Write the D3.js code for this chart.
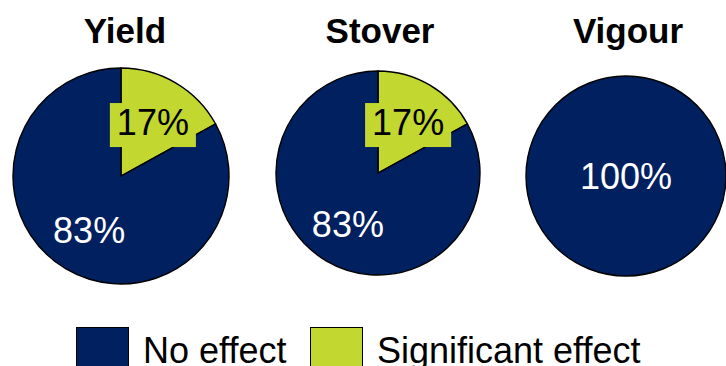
<!DOCTYPE html>
<html>
<head>
<meta charset="utf-8">
<script src="https://cdn.jsdelivr.net/npm/d3@7"></script>
<style>
  html, body { margin: 0; padding: 0; background: #fff; }
  svg { display: block; }
  text { font-family: Arial, "Liberation Sans", sans-serif; }
</style>
</head>
<body>
<svg id="chart" width="726" height="366"></svg>
<script>
// Share of trials per trait, by outcome
const traits = ["Yield", "Stover", "Vigour"];
const noEffect = [83, 83, 100];
const significantEffect = [17, 17, 0];
const outcomes = ["Significant effect", "No effect"];
const legendLabels = ["No effect", "Significant effect"];

// Layout of the three pies (centre, radius, title position)
const layout = [
  { cx: 121, cy: 176, r: 108, tx: 125 },
  { cx: 378, cy: 173, r: 102, tx: 380 },
  { cx: 626, cy: 176, r: 100, tx: 628 }
];

const color = d3.scaleOrdinal()
  .domain(outcomes)
  .range(["#c2d72f", "#00205f"]);

const svg = d3.select("#chart");

const pie = d3.pie()
  .sort(null)
  .value(d => d.value);

traits.forEach((trait, i) => {
  const L = layout[i];
  const data = [
    { key: "Significant effect", value: significantEffect[i] },
    { key: "No effect", value: noEffect[i] }
  ].filter(d => d.value > 0);

  const arc = d3.arc().innerRadius(0).outerRadius(L.r);
  const labelArc = d3.arc().innerRadius(L.r * 0.58).outerRadius(L.r * 0.58);

  const g = svg.append("g").attr("transform", `translate(${L.cx},${L.cy})`);
  const arcs = pie(data);

  g.selectAll("path.slice")
    .data(arcs)
    .join("path")
    .attr("class", "slice")
    .attr("d", arc)
    .attr("fill", d => color(d.data.key))
    .attr("stroke", "#000")
    .attr("stroke-width", 1.4);

  // Slice labels
  arcs.forEach(d => {
    const full = d.endAngle - d.startAngle > 2 * Math.PI - 1e-6;
    const [x, y] = full ? [0, 0] : labelArc.centroid(d);
    const isSig = d.data.key === "Significant effect";
    const lg = g.append("g").attr("transform", `translate(${x},${y})`);
    const bg = lg.append("rect");
    const t = lg.append("text")
      .attr("text-anchor", "middle")
      .attr("dy", "0.36em")
      .attr("font-size", 36)
      .attr("fill", isSig ? "#000" : "#fff")
      .text(d.data.value + "%");
    if (isSig) {
      const b = t.node().getBBox();
      bg.attr("x", b.x - 7)
        .attr("y", b.y + 1)
        .attr("width", b.width + 14)
        .attr("height", b.height + 3)
        .attr("fill", color("Significant effect"));
    } else {
      bg.remove();
    }
  });

  // Title
  svg.append("text")
    .attr("x", L.tx)
    .attr("y", 43)
    .attr("text-anchor", "middle")
    .attr("font-size", 35)
    .attr("font-weight", "bold")
    .attr("fill", "#000")
    .text(trait);
});

// Legend
const legendItems = [
  { label: legendLabels[0], key: "No effect", x: 76 },
  { label: legendLabels[1], key: "Significant effect", x: 310 }
];
const lg = svg.append("g");
legendItems.forEach(item => {
  lg.append("rect")
    .attr("x", item.x + 0.5)
    .attr("y", 327.5)
    .attr("width", 52)
    .attr("height", 44)
    .attr("fill", color(item.key))
    .attr("stroke", "#000")
    .attr("stroke-width", 1);
  lg.append("text")
    .attr("x", item.x + 67)
    .attr("y", 363)
    .attr("font-size", 36)
    .attr("fill", "#000")
    .text(item.label);
});
</script>
</body>
</html>
